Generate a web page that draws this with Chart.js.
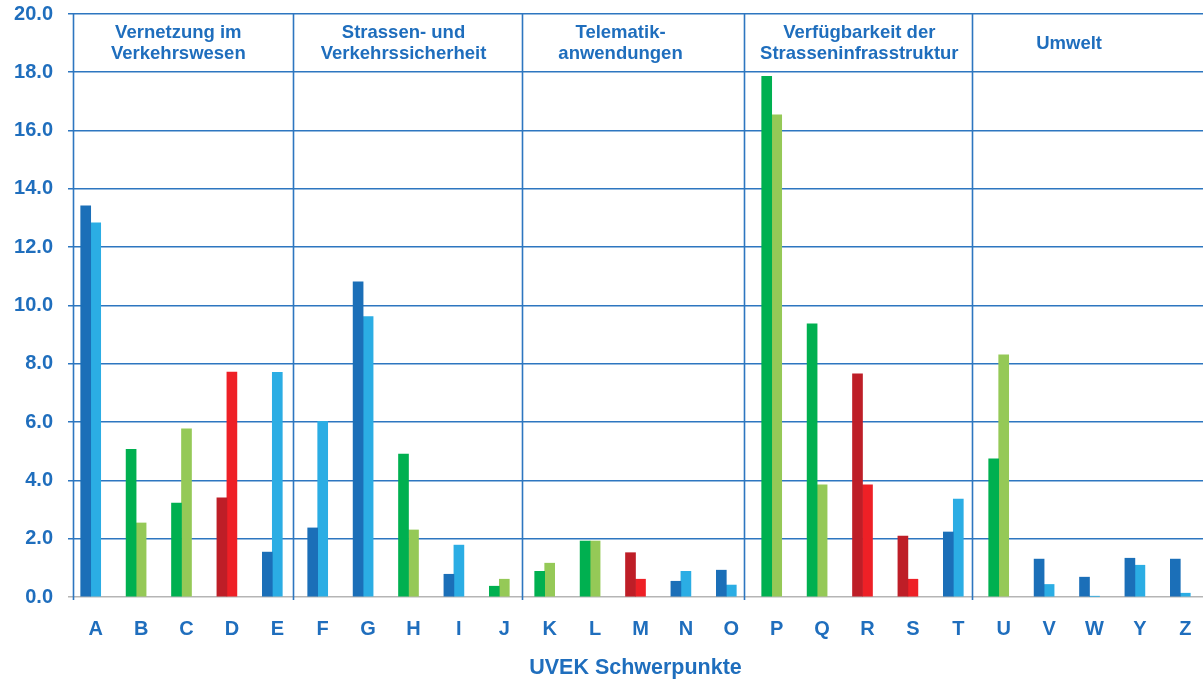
<!DOCTYPE html>
<html>
<head>
<meta charset="utf-8">
<script src="https://cdn.jsdelivr.net/npm/chart.js@4/dist/chart.umd.min.js"></script>
<style>
  html, body { margin: 0; padding: 0; background: #ffffff; overflow: hidden; }
  #wrap { position: relative; width: 1203px; height: 684px; }
</style>
</head>
<body>
<div id="wrap"><canvas id="chart"></canvas></div>
<script>
// Schwerpunkte (no X)
const categories = ['A','B','C','D','E','F','G','H','I','J','K','L','M','N','O','P','Q','R','S','T','U','V','W','Y','Z'];

// colour family of each pair of bars
const families = ['blue','green','green','red','blue','blue','blue','green','blue','green',
                  'green','green','red','blue','blue','green','green','red','red','blue',
                  'green','blue','blue','blue','blue'];

// left bar of each pair
const firstValues  = [13.42, 5.07, 3.22, 3.40, 1.54, 2.37, 10.81, 4.90, 0.78, 0.37,
                      0.88, 1.92, 1.52, 0.54, 0.92, 17.86, 9.37, 7.66, 2.09, 2.23,
                      4.74, 1.30, 0.68, 1.33, 1.30];
// right bar of each pair
const secondValues = [12.84, 2.54, 5.77, 7.72, 7.71, 6.03, 9.62, 2.30, 1.78, 0.61,
                      1.16, 1.92, 0.61, 0.88, 0.41, 16.54, 3.85, 3.85, 0.61, 3.36,
                      8.31, 0.43, 0.02, 1.09, 0.13];

const yTicks = [0, 2, 4, 6, 8, 10, 12, 14, 16, 18, 20];

const sectionTitles = [
  ['Vernetzung im', 'Verkehrswesen'],
  ['Strassen- und', 'Verkehrssicherheit'],
  ['Telematik-', 'anwendungen'],
  ['Verfügbarkeit der', 'Strasseninfrasstruktur'],
  ['Umwelt']
];
const axisTitle = 'UVEK Schwerpunkte';

// layout helpers, in category units along the x scale
const sectionTitleAt = [1.93, 6.89, 11.67, 16.93, 21.55];
const frameLinesAt = [-0.39, 4.45, 9.5, 14.38, 19.42];

const palette = {
  blue:  ['#1b6fb8', '#2badE4'],
  green: ['#00b050', '#95c957'],
  red:   ['#be1e27', '#ee2026']
};
const TEXT = '#1f6ebd';
const GRID = '#2d76c0';
const FONT = "'Liberation Sans', Arial, sans-serif";

const framePlugin = {
  id: 'framePlugin',
  afterDatasetsDraw(chart) {
    const { ctx, chartArea } = chart;
    const x = chart.scales.x;
    ctx.save();
    ctx.strokeStyle = GRID;
    ctx.lineWidth = 1.6;
    frameLinesAt.forEach(v => {
      const px = Math.round(x.getPixelForValue(v)) + 0.5;
      ctx.beginPath();
      ctx.moveTo(px, chartArea.top);
      ctx.lineTo(px, chartArea.bottom + 3);
      ctx.stroke();
    });
    ctx.fillStyle = TEXT;
    ctx.font = 'bold 18.5px ' + FONT;
    ctx.textAlign = 'center';
    ctx.textBaseline = 'middle';
    sectionTitles.forEach((lines, i) => {
      const px = x.getPixelForValue(sectionTitleAt[i]);
      const lh = 21.5;
      const y0 = 43.5 - (lines.length - 1) * lh / 2;
      lines.forEach((t, j) => ctx.fillText(t, px, y0 + j * lh));
    });
    ctx.restore();
  }
};

new Chart(document.getElementById('chart'), {
  type: 'bar',
  data: {
    labels: categories,
    datasets: [
      {
        data: firstValues,
        backgroundColor: families.map(f => palette[f][0])
      },
      {
        data: secondValues,
        backgroundColor: families.map(f => palette[f][1])
      }
    ]
  },
  options: {
    responsive: true,
    maintainAspectRatio: false,
    animation: false,
    layout: { padding: { top: 14, right: 0, left: 0, bottom: 0 } },
    datasets: { bar: { barThickness: 10, borderWidth: 0 } },
    plugins: {
      legend: { display: false },
      tooltip: { enabled: false }
    },
    scales: {
      x: {
        offset: true,
        grid: { display: false, drawTicks: false },
        border: { display: false },
        ticks: {
          color: TEXT,
          font: { family: FONT, size: 20, weight: 'bold' },
          padding: 20,
          labelOffset: 5,
          maxRotation: 0,
          autoSkip: false
        },
        title: {
          display: true,
          text: axisTitle,
          color: TEXT,
          font: { family: FONT, size: 21.5, weight: 'bold' },
          padding: { top: 0, bottom: 3 }
        },
        afterFit(scale) {
          scale.height = 87;
          scale.paddingLeft = 0;
          scale.paddingRight = 0;
        }
      },
      y: {
        min: 0,
        max: 20,
        afterBuildTicks(scale) { scale.ticks = yTicks.map(v => ({ value: v })); },
        grid: {
          drawTicks: false,
          lineWidth: 1.6,
          color: c => (c.tick && c.tick.value === 0) ? '#b5b5b5' : GRID
        },
        border: { display: false },
        ticks: {
          color: TEXT,
          font: { family: FONT, size: 20, weight: 'bold' },
          padding: 15,
          callback: v => Number(v).toFixed(1)
        },
        afterFit(scale) {
          scale.width = 68;
          scale.paddingTop = 0;
          scale.paddingBottom = 0;
        }
      }
    }
  },
  plugins: [framePlugin]
});
</script>
</body>
</html>
